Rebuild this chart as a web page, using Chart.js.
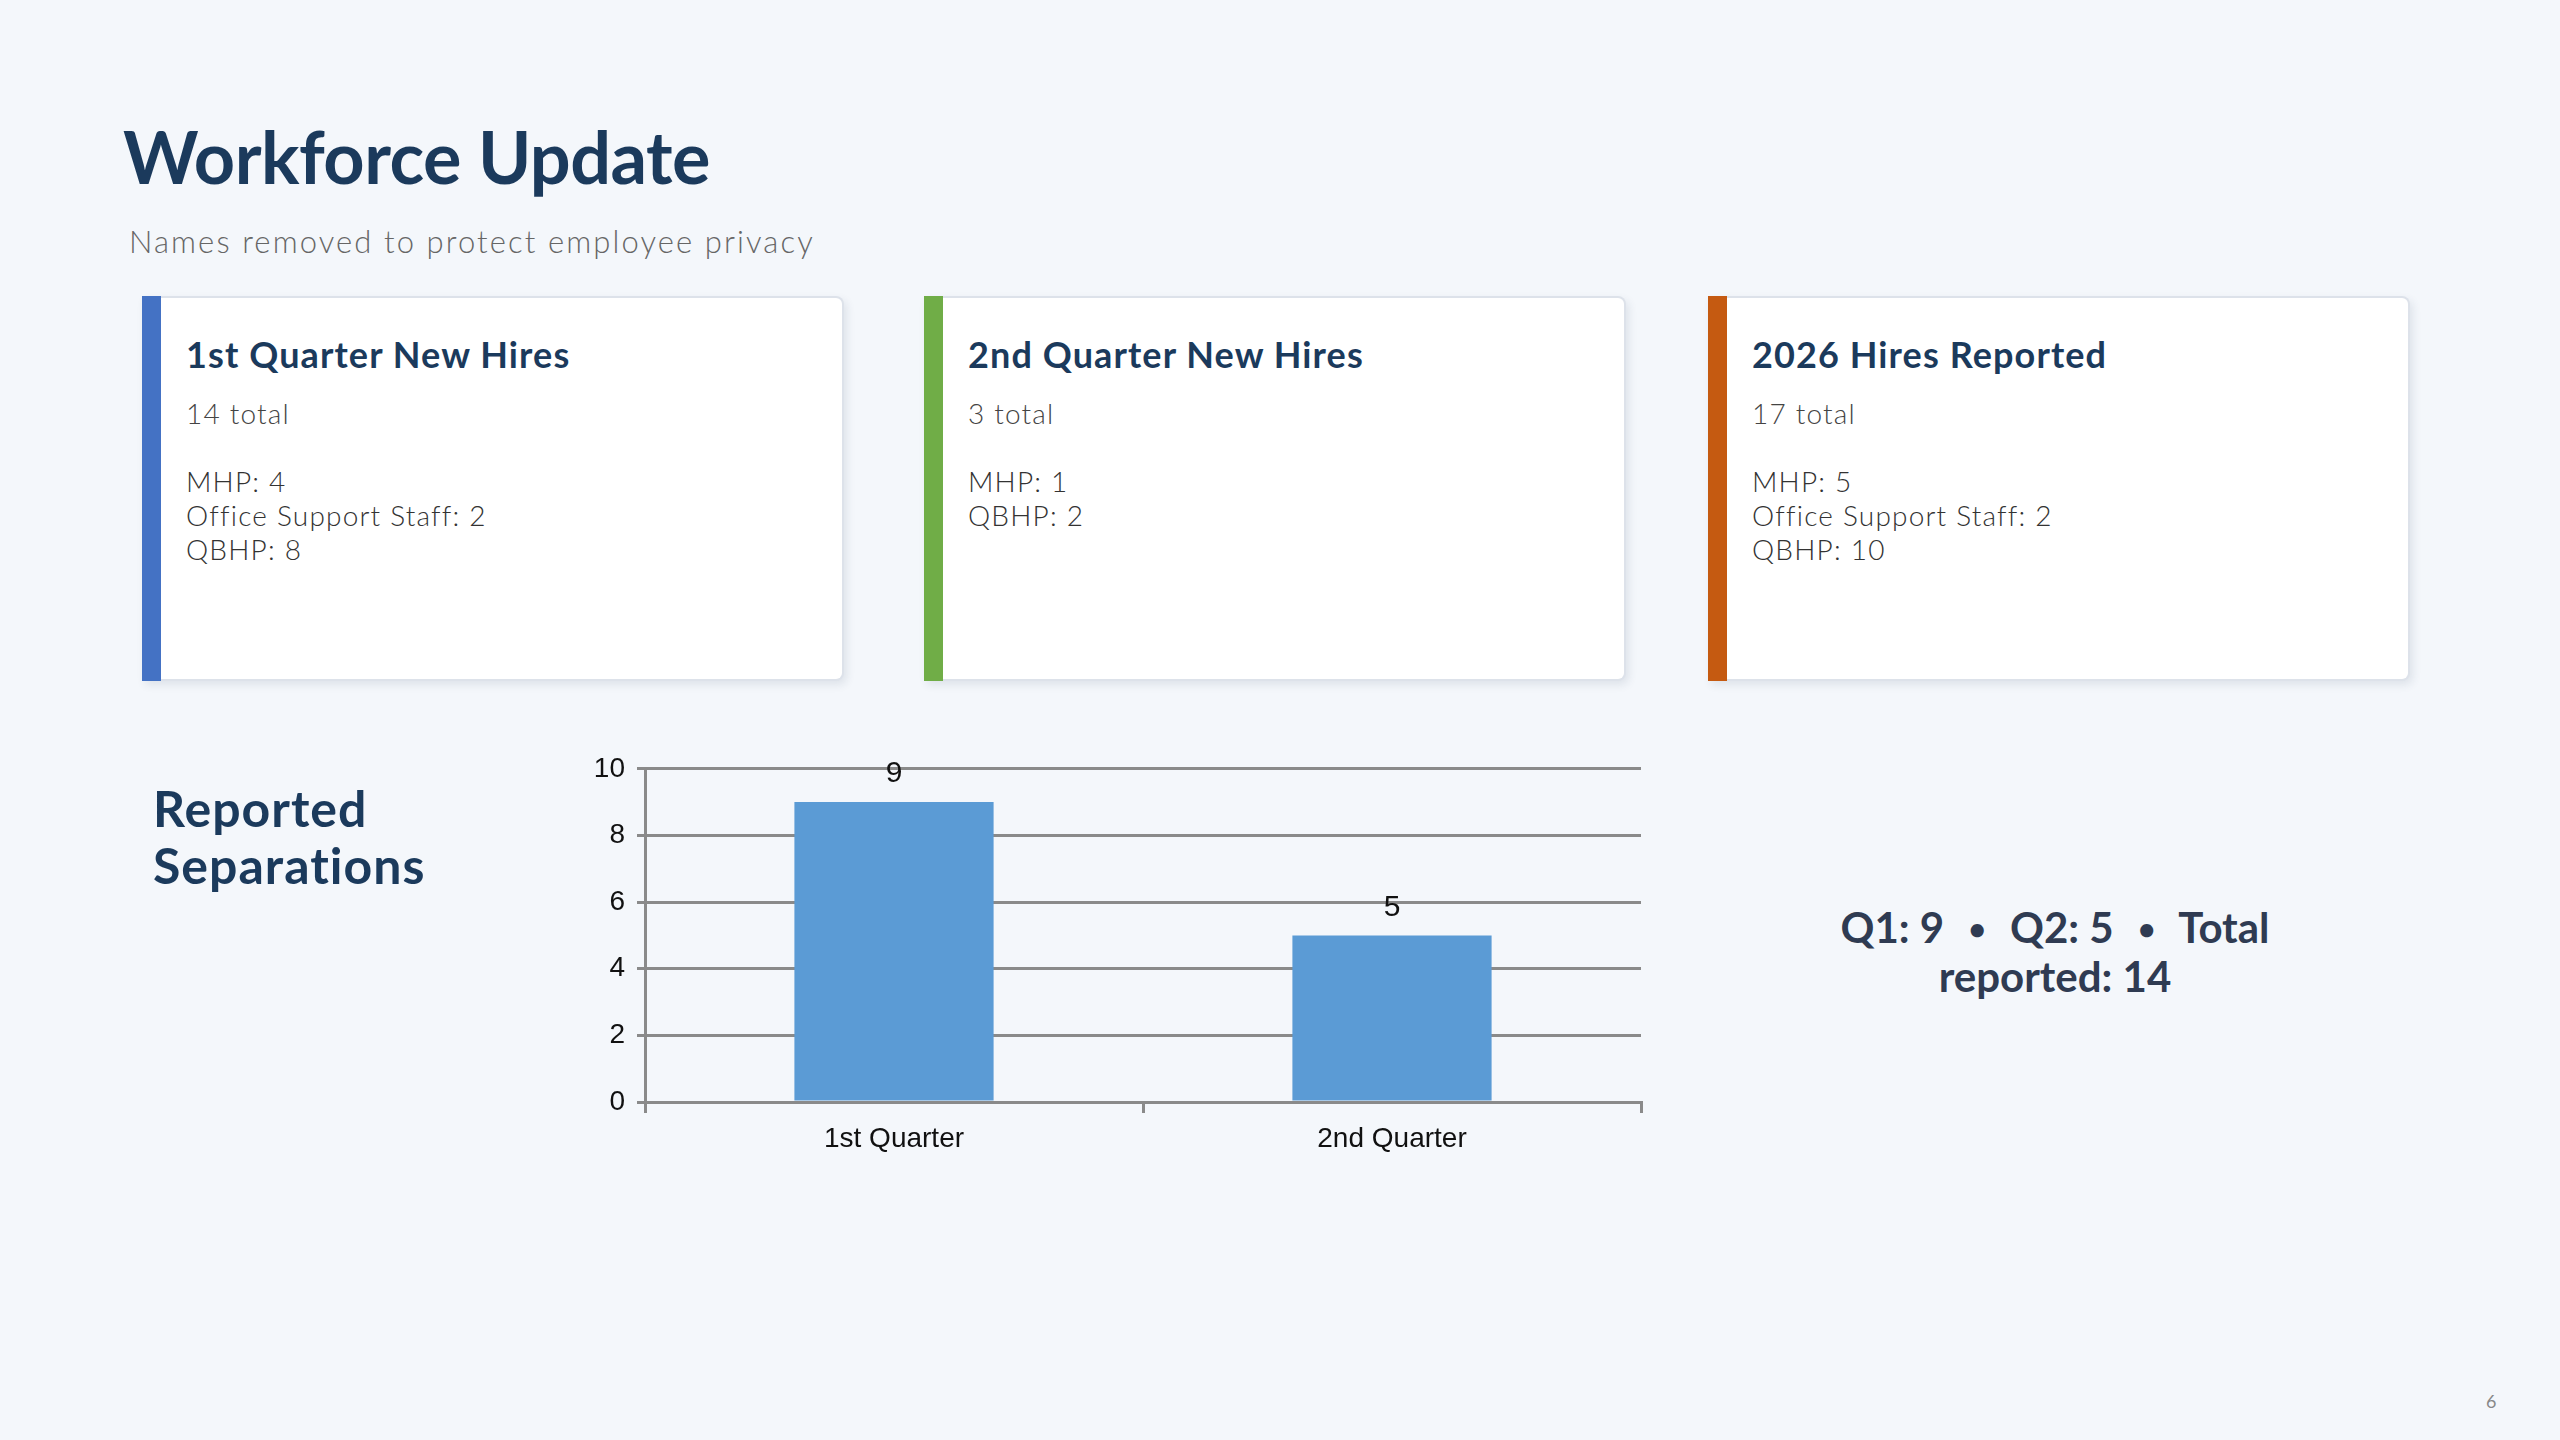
<!DOCTYPE html>
<html>
<head>
<meta charset="utf-8">
<script src="https://cdn.jsdelivr.net/npm/chart.js@4.4.1/dist/chart.umd.min.js"></script>
<style>
  html, body { margin:0; padding:0; }
  body { width:2560px; height:1440px; background:#f4f7fb; position:relative; overflow:hidden; font-family: Lato, "Open Sans", sans-serif; }
  .title { position:absolute; left:123px; top:113px; font-size:72px; font-weight:700; color:#1b3a5c; letter-spacing:-0.5px; }
  .subtitle { position:absolute; left:129px; top:222px; font-size:31px; font-weight:300; color:#666; letter-spacing:2.1px; }
  .card { position:absolute; top:296px; width:702px; height:385px; background:#fff; border:2px solid #dde2ea; border-left:none; border-radius:0 8px 8px 0; box-shadow: 3px 4px 8px rgba(40,60,90,0.10); box-sizing:border-box; }
  .card .bar { position:absolute; left:0; top:-2px; bottom:-2px; width:19px; }
  .card h3 { position:absolute; left:44px; top:34px; margin:0; font-size:36px; font-weight:700; color:#1b3a5c; letter-spacing:1.1px; }
  .card .tot { position:absolute; left:44px; top:98px; font-size:28px; font-weight:300; color:#444; letter-spacing:1.2px; }
  .card .lines { position:absolute; left:44px; top:166px; font-size:28px; font-weight:300; color:#333; line-height:34px; letter-spacing:1.2px; }
  .sep { position:absolute; left:153px; top:780px; font-size:50px; font-weight:700; color:#1b3a5c; line-height:57px; letter-spacing:1px; }
  .summary { position:absolute; left:1760px; width:590px; text-align:center; font-size:42px; font-weight:700; color:#2f3b52; line-height:42px; white-space:nowrap; }
  .summary .b { font-size:30px; vertical-align:3px; padding:0 14px; }
  .pgno { position:absolute; left:2486px; top:1390px; font-size:18px; color:#888; }
  #chartBox { position:absolute; left:560px; top:740px; width:1120px; height:440px; }
</style>
</head>
<body>
<div class="title">Workforce Update</div>
<div class="subtitle">Names removed to protect employee privacy</div>

<div class="card" style="left:142px;"><div class="bar" style="background:#4472c4"></div>
  <h3>1st Quarter New Hires</h3><div class="tot">14 total</div>
  <div class="lines">MHP: 4<br>Office Support Staff: 2<br>QBHP: 8</div></div>
<div class="card" style="left:924px;"><div class="bar" style="background:#70ad47"></div>
  <h3>2nd Quarter New Hires</h3><div class="tot">3 total</div>
  <div class="lines">MHP: 1<br>QBHP: 2</div></div>
<div class="card" style="left:1708px;"><div class="bar" style="background:#c55a11"></div>
  <h3>2026 Hires Reported</h3><div class="tot">17 total</div>
  <div class="lines">MHP: 5<br>Office Support Staff: 2<br>QBHP: 10</div></div>

<div class="sep">Reported<br>Separations</div>
<div id="chartBox"><canvas id="c"></canvas></div>
<div class="summary" style="top:906px;">Q1: 9 <span class="b">•</span> Q2: 5 <span class="b">•</span> Total</div>
<div class="summary" style="top:955px;">reported: 14</div>
<div class="pgno">6</div>

<script>
const categories = ["1st Quarter", "2nd Quarter"];
const separations = [9, 5];
const yTicks = [0, 2, 4, 6, 8, 10];

const labelPlugin = {
  id: 'barLabels',
  afterDatasetsDraw(chart) {
    const ctx = chart.ctx;
    const meta = chart.getDatasetMeta(0);
    ctx.save();
    ctx.font = '30px "Liberation Sans", Arial, sans-serif';
    ctx.fillStyle = '#111';
    ctx.textAlign = 'center';
    ctx.textBaseline = 'bottom';
    meta.data.forEach((el, i) => {
      ctx.fillText(String(chart.data.datasets[0].data[i]), el.x, el.y - 13);
    });
    ctx.restore();
  }
};

new Chart(document.getElementById('c'), {
  type: 'bar',
  data: {
    labels: categories,
    datasets: [{ data: separations, backgroundColor: '#5b9bd5', borderWidth: 0, categoryPercentage: 0.8, barPercentage: 0.5 }]
  },
  options: {
    responsive: true, maintainAspectRatio: false, animation: false,
    layout: { padding: { top: 27, right: 39, left: 0, bottom: 0 } },
    plugins: { legend: { display: false }, tooltip: { enabled: false } },
    scales: {
      x: {
        offset: true,
        afterFit: s => { s.height = 78; },
        grid: { offset: true, drawOnChartArea: false, drawTicks: true, tickLength: 11, color: '#8a8a8a', lineWidth: 3 },
        border: { display: true, color: '#8a8a8a', width: 3 },
        ticks: { color: '#111', padding: 9, font: { family: '"Liberation Sans", Arial, sans-serif', size: 28 } }
      },
      y: {
        min: 0, max: 10,
        afterFit: s => { s.width = 85; },
        afterBuildTicks: s => { s.ticks = yTicks.map(v => ({ value: v })); },
        grid: { color: '#8a8a8a', lineWidth: 3, tickLength: 8, drawTicks: true },
        border: { display: true, color: '#8a8a8a', width: 3 },
        ticks: { color: '#111', padding: 12, font: { family: '"Liberation Sans", Arial, sans-serif', size: 28 } }
      }
    }
  },
  plugins: [labelPlugin]
});
</script>
</body>
</html>
